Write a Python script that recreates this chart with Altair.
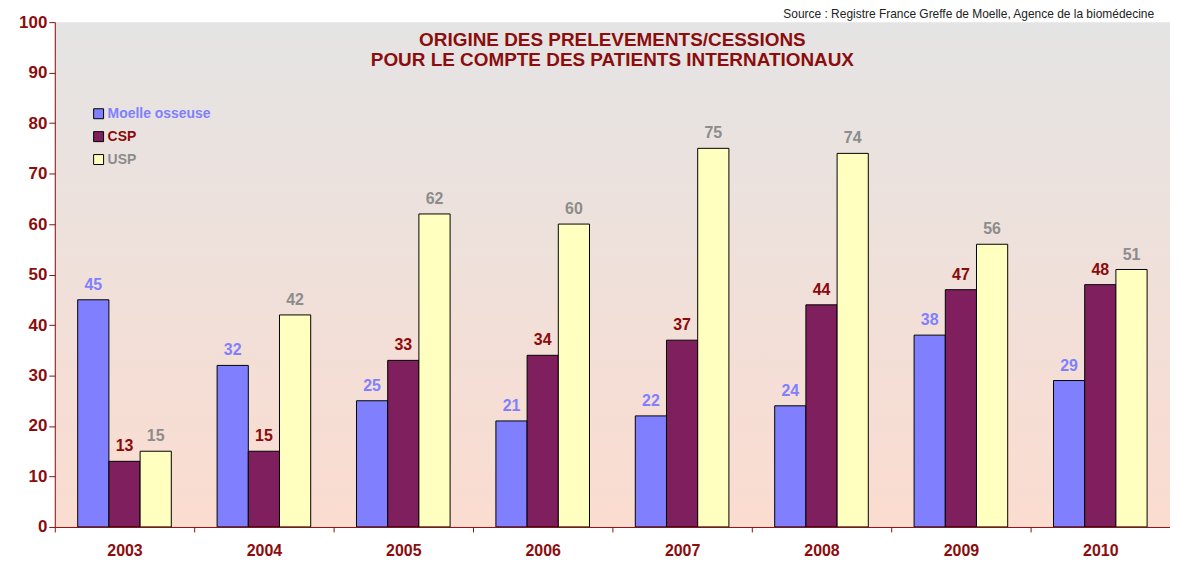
import altair as alt
import pandas as pd

years = ["2003", "2004", "2005", "2006", "2007", "2008", "2009", "2010"]
series_names = ["Moelle osseuse", "CSP", "USP"]
moelle = [45, 32, 25, 21, 22, 24, 38, 29]
csp = [13, 15, 33, 34, 37, 44, 47, 48]
usp = [15, 42, 62, 60, 75, 74, 56, 51]

bar_colors = ["#8080ff", "#801f5e", "#ffffc0"]
label_colors = ["#8080ff", "#8b0a0a", "#8c8c8c"]
dark_red = "#8b0d0d"

title_lines = "ORIGINE DES PRELEVEMENTS/CESSIONS\nPOUR LE COMPTE DES PATIENTS INTERNATIONAUX"
source_text = "Source : Registre France Greffe de Moelle, Agence de la biomédecine"

rows = []
for s, vals in zip(series_names, [moelle, csp, usp]):
    for y, v in zip(years, vals):
        rows.append({"year": y, "series": s, "value": v})
df = pd.DataFrame(rows)

W, H = 1120, 507
FONT = "Liberation Sans"

x_enc = alt.X(
    "year:N",
    sort=years,
    scale=alt.Scale(paddingInner=0, paddingOuter=0),
    axis=alt.Axis(
        title=None, labelAngle=0, tickBand="extent", tickSize=5, labelPadding=11,
        labelFontSize=16, labelFontWeight="bold", labelColor=dark_red,
        domainColor=dark_red, tickColor=dark_red, grid=False, zindex=1,
    ),
)
xoff = alt.XOffset("series:N", sort=series_names,
                   scale=alt.Scale(domain=series_names, paddingInner=0, paddingOuter=0.734))
y_enc = alt.Y(
    "value:Q",
    scale=alt.Scale(domain=[0, 100], nice=False),
    axis=alt.Axis(
        title=None, values=list(range(0, 101, 10)), tickSize=6, labelPadding=2,
        labelFontSize=17, labelFontWeight="bold", labelColor=dark_red,
        domainColor=dark_red, tickColor=dark_red, grid=False, zindex=1,
    ),
)

bg = alt.Chart(pd.DataFrame({"a": [0]})).mark_rect(
    fill=alt.LinearGradient(
        gradient="linear",
        stops=[alt.GradientStop(color="#e4e4e4", offset=0),
               alt.GradientStop(color="#fbdcd0", offset=1)],
        x1=0, x2=0, y1=0, y2=1,
    )
).encode(x=alt.value(0), x2=alt.value(W), y=alt.value(0), y2=alt.value(H))

legend_label_expr = (
    "datum.value === 'CSP' ? '" + label_colors[1] + "' : datum.value === 'USP' ? '"
    + label_colors[2] + "' : '" + label_colors[0] + "'"
)

bars = alt.Chart(df).mark_bar(stroke="black", strokeWidth=1).encode(
    x=x_enc,
    xOffset=xoff,
    y=y_enc,
    color=alt.Color(
        "series:N",
        scale=alt.Scale(domain=series_names, range=bar_colors),
        legend=alt.Legend(
            title=None, orient="none", legendX=37, legendY=85, padding=0,
            symbolType="square", symbolSize=100, symbolStrokeColor="black",
            symbolStrokeWidth=1, labelFontSize=14, labelFontWeight="bold",
            labelFont=FONT, rowPadding=9, labelOffset=2,
            labelColor=alt.ExprRef(expr=legend_label_expr),
        ),
    ),
)

labels = alt.Chart(df).mark_text(
    dy=-10, baseline="alphabetic", fontSize=16, fontWeight="bold", font=FONT
).encode(
    x=alt.X("year:N", sort=years),
    xOffset=xoff,
    y="value:Q",
    text="value:Q",
    fill=alt.Fill("series:N", scale=alt.Scale(domain=series_names, range=label_colors), legend=None),
)

title = alt.Chart(pd.DataFrame({"t": [title_lines]})).mark_text(
    lineBreak="\n", lineHeight=20, fontSize=19, fontWeight="bold", font=FONT,
    color=dark_red, align="center", baseline="alphabetic",
).encode(x=alt.value(W / 2), y=alt.value(24), text="t:N")

source = alt.Chart(pd.DataFrame({"t": [source_text]})).mark_text(
    fontSize=12, font=FONT, color="#222222", align="right", baseline="alphabetic",
).encode(x=alt.value(1104), y=alt.value(-4), text="t:N")

chart = alt.layer(bg, bars, labels, title, source).properties(
    width=W, height=H,
    autosize=alt.AutoSizeParams(type="none"),
    padding={"left": 47, "top": 13, "right": 0, "bottom": 35},
).configure(font=FONT).configure_view(strokeWidth=0)

chart.save("out.html", embed_options={"renderer": "svg", "actions": False})
